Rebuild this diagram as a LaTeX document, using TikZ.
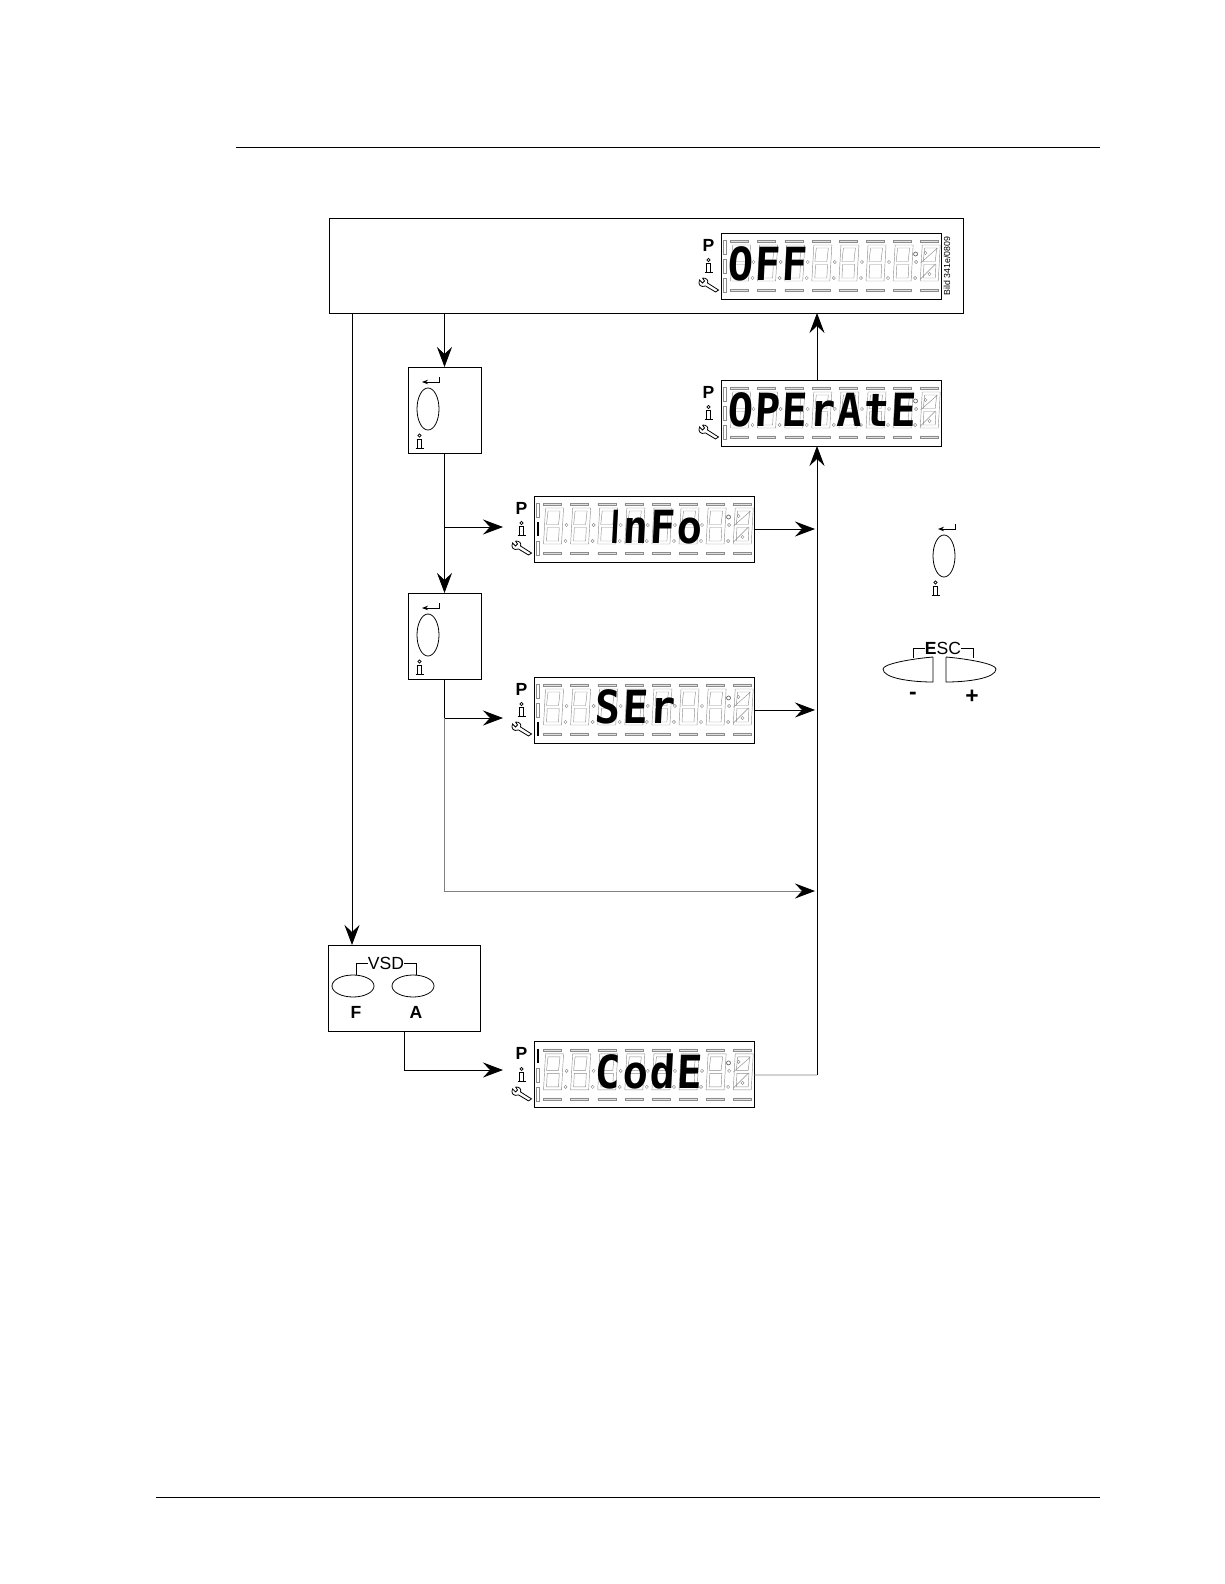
\documentclass[tikz,border=0pt]{standalone}
\usepackage{fontspec}
\setmainfont{Liberation Sans}
\newfontfamily\lcdfont[FakeStretch=0.92,FakeSlant=0.05]{DejaVu Sans Mono Bold}
\newfontfamily\lcdbarfont[FakeStretch=0.5,FakeSlant=0.05]{DejaVu Sans Bold}
\usetikzlibrary{arrows.meta, positioning, calc, shapes.geometric}

\tikzset{
    panel/.style={rectangle, draw, line width=0.5pt, inner sep=0pt, outer sep=0pt},
    lcd/.style={panel, minimum width=4.4cm, minimum height=1.32cm},
    keybox/.style={panel, minimum width=1.46cm, minimum height=1.72cm},
    arrow/.style={-{Stealth[length=0.4cm, width=0.3cm, inset=0.14cm, color=black]}, line width=0.45pt},
    faint/.style={black!50, line width=0.45pt},
    ghost/.style={black!45, line width=0.25pt},
    thin line/.style={line width=0.45pt},
    keylabel/.style={inner sep=0pt, font=\fontsize{10}{11}\selectfont\bfseries},
    toplabel/.style={inner sep=0pt, fill=white, font=\fontsize{10}{11}\selectfont},
    infoicon/.pic={
        \draw[line width=0.4pt] (0,0) circle (1.6);
        \draw[line width=0.4pt] (-3,3.5) -- (2,3.5) (-2,3.5) -- (-2,12.5) (2,3.5) -- (2,12.5) (-4,12.5) -- (4,12.5);
    },
    okicon/.pic={
        \draw[line width=0.45pt] (0,0) ellipse [x radius=11, y radius=21];
        \draw[thin line, -{Stealth[length=0.12cm, width=0.09cm]}] (11.5,-32) -- (11.5,-27) -- (-6,-27);
        \pic at (-8.5,26.5) {infoicon};
    },
    ghostdigit/.pic={
        \draw[ghost] (0,36) -- (18,36) -- (20,0) -- (2,0) -- cycle;
        \draw[ghost] (3,16.5) -- (15,16.5) -- (16.5,3) -- (4.5,3) -- cycle;
        \draw[ghost] (3,33) -- (15,33) -- (15.7,19.5) -- (3.7,19.5) -- cycle;
    },
    wrench/.pic={
        \draw[line width=0.45pt, fill=white] (-19,45) -- (-17,48) -- (-19,50) -- (-22,47)
            .. controls (-24,51) and (-21,55) .. (-16,53) -- (-6,59) -- (-3,57) -- (-14,50)
            .. controls (-13,47) and (-15,45) .. (-19,45);
    }
}

% letters of the display sit in equal cells
\newcommand{\lcdch}[1]{\makebox[0.542cm]{#1}}

% face of a display: node name, first cell, word, dark side bar
\newcommand{\lcdface}[4]{
    \begin{scope}[shift={(#1.north west)}]
        \foreach \i [evaluate=\i as \x using 9+27.1*\i] in {0,...,7} {
            \pic at (\x,12) {ghostdigit};
            \draw[ghost, fill=black!12] (\x,7) rectangle ++(18,2.5) (\x,56) rectangle ++(18,2.5);
        }
        \foreach \i [evaluate=\i as \x using 32+27.1*\i] in {0,...,6} {
            \draw[ghost] (\x,29) circle (1.6);
            \draw[ghost] (\x-1,45) circle (1.6);
        }
        \draw[black!60, line width=0.4pt] (194,21) circle (2);
        \draw[ghost] (199,30) -- (216,15) (199,46) -- (214,31) (204,20) circle (1.6) (208,41) circle (1.6);
        \foreach \i/\ya/\yb in {0/7/21, 1/26/40, 2/45/59} {
            \ifnum\i=#4
                \fill (2,\ya) rectangle (4.5,\yb);
            \else
                \draw[ghost] (2,\ya) rectangle (4.5,\yb);
            \fi
        }
        \node[inner sep=0pt, anchor=base west, font={\lcdfont\fontsize{26}{30}\selectfont}] (#1word) at ({9+27.1*#2-4},47) {#3};
        \node[keylabel] (#1mark) at (-13,12) {P};
        \pic at (-13,27) {infoicon};
        \pic {wrench};
    \end{scope}
}

\begin{document}
\begin{tikzpicture}[x=0.02cm, y=-0.02cm]
\useasboundingbox (0,0) rectangle (1224,1584);

\coordinate (ruletopa) at (236,147);
\coordinate (ruletopb) at (1100,147);
\coordinate (rulebota) at (156,1497);
\coordinate (rulebotb) at (1100,1497);
\draw[line width=0.45pt] (ruletopa) -- (ruletopb);
\draw[line width=0.45pt] (rulebota) -- (rulebotb);

\node[panel, minimum width=12.68cm, minimum height=1.9cm] (main) at (646,265.5) {};
\node[lcd] (lcdoff) at (831.5,266) {};
\node[lcd, below=1.62cm of lcdoff] (lcdoperate) {};
\node[lcd] (lcdinfo) at (644.5,529) {};
\node[lcd, below=2.3cm of lcdinfo] (lcdser) {};
\node[lcd, below=5.98cm of lcdser] (lcdcode) {};

\node[keybox] (keya) at (444.5,410) {};
\node[keybox, below=2.8cm of keya] (keyb) {};
\node[panel, minimum width=3.04cm, minimum height=1.72cm] (vsd) at (404,988) {};

\lcdface{lcdoff}{0}{\lcdch{O}\lcdch{F}\lcdch{F}}{-1}
\lcdface{lcdoperate}{0}{\lcdch{O}\lcdch{P}\lcdch{E}\lcdch{r}\lcdch{A}\lcdch{t}\lcdch{E}}{-1}
\lcdface{lcdinfo}{2}{\lcdch{\hspace{0.28cm}\lcdbarfont I}\lcdch{n}\lcdch{F}\lcdch{o}}{1}
\lcdface{lcdser}{2}{\lcdch{S}\lcdch{E}\lcdch{r}}{2}
\lcdface{lcdcode}{2}{\lcdch{C}\lcdch{o}\lcdch{d}\lcdch{E}}{0}

\node[rotate=90, inner sep=0pt, font=\fontsize{5}{6}\selectfont] (bild) at (947,266) {Bild 341e/0809};

\pic at (428,409) {okicon};
\pic at (428,635) {okicon};
\pic at (944,556) {okicon};

% the VSD keys
\draw[line width=0.45pt] (353,986) ellipse [x radius=21, y radius=11];
\draw[line width=0.45pt] (413,986) ellipse [x radius=21, y radius=11];
\node[toplabel] (vsdlabel) at (386,963) {VSD};
\draw[thin line] (356,975) |- (vsdlabel.west);
\draw[thin line] (416,975) |- (vsdlabel.east);
\node[keylabel] (keyf) at (356,1012) {F};
\node[keylabel] (keyk) at (416,1012) {A};

% the ESC keys
\draw[line width=0.45pt] (933,657) -- (933,682) .. controls (910,682) and (883,678) .. (883,669) .. controls (883,664) and (910,659) .. (933,657);
\draw[line width=0.45pt] (946,657) -- (946,682) .. controls (969,682) and (996,678) .. (996,669) .. controls (996,664) and (969,659) .. (946,657);
\node[toplabel] (esclabel) at (943,648) {\textbf{E}SC};
\draw[thin line] (913,658) |- (esclabel.west);
\draw[thin line] (973,658) |- (esclabel.east);
\node[keylabel, font=\fontsize{13}{14}\selectfont\bfseries] (keyminus) at (913,696) {-};
\node[keylabel, font=\fontsize{13}{14}\selectfont\bfseries] (keyplus) at (972,697) {+};

\coordinate (leftdrop) at (352,945);
\coordinate (rail) at (817,1075);
\coordinate (infoin) at (503,527);
\coordinate (serin) at (503,718);
\coordinate (codein) at (503,1070);
\coordinate (otherend) at (815,891);

\draw[arrow] (leftdrop |- main.south) -- (leftdrop);
\draw[arrow] (keya |- main.south) -- (keya.north);
\draw[arrow] (keya.south) -- (keyb.north);
\draw[arrow] (keya.south |- infoin) -- (infoin);
\draw[arrow] (lcdinfo.east) -- (lcdinfo.east -| otherend);
\draw[arrow] (keyb.south) |- (serin);
\draw[arrow] (lcdser.east) -- (lcdser.east -| otherend);
\draw[arrow, faint] (keyb.south |- serin) |- (otherend);
\draw[arrow] (vsd.south) |- (codein);
\draw[faint] (lcdcode.east) -- (rail);
\draw[arrow] (rail) -- (rail |- lcdoperate.south);
\draw[arrow] (rail |- lcdoperate.north) -- (rail |- main.south);

\end{tikzpicture}
\end{document}
